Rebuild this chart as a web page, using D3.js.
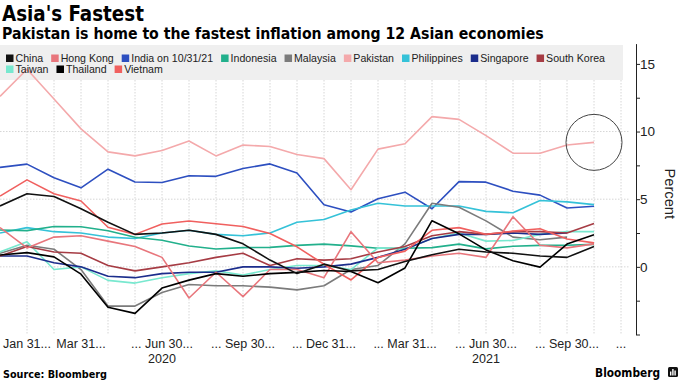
<!DOCTYPE html>
<html lang="en">
<head>
<meta charset="UTF-8">
<title>Asia's Fastest</title>
<script src="https://d3js.org/d3.v7.min.js"></script>
<style>
    body { margin: 0; background: #fff; }
    .title { font-family: "DejaVu Sans Condensed", "DejaVu Sans", sans-serif; font-weight: bold; fill: #000; }
    .legend-text { font-family: "Liberation Sans", Arial, sans-serif; font-size: 10.6px; fill: #222; }
    .axis text { font-family: "Liberation Sans", Arial, sans-serif; fill: #222; }
    .grid line { stroke: #d6d6d6; stroke-dasharray: 1.5 1.5; stroke-width: 1; }
    .line { fill: none; stroke-width: 1.6px; stroke-linejoin: round; }
</style>
</head>
<body>
<svg width="680" height="382"></svg>
<script>
// months, Dec 2019 .. Oct 2021 (year-on-year CPI, %); last slot is an empty Nov 2021 column
const months = ["2019-12","2020-01","2020-02","2020-03","2020-04","2020-05","2020-06","2020-07","2020-08","2020-09","2020-10","2020-11","2020-12",
                "2021-01","2021-02","2021-03","2021-04","2021-05","2021-06","2021-07","2021-08","2021-09","2021-10","2021-11"];

const china       = [4.5, 5.4, 5.2, 4.3, 3.3, 2.4, 2.5, 2.7, 2.4, 1.7, 0.5, -0.5, 0.2, -0.3, -0.2, 0.4, 0.9, 1.3, 1.1, 1.0, 0.8, 0.7, 1.5];
const hongKong    = [2.9, 1.4, 2.2, 2.3, 1.9, 1.5, 0.7, -2.3, -0.4, -2.2, -0.2, -0.2, -0.8, 2.6, 0.3, 0.5, 0.8, 1.0, 0.7, 3.7, 1.6, 1.4, 1.7];
const india       = [7.35, 7.59, 6.58, 5.84, 7.22, 6.27, 6.23, 6.73, 6.69, 7.27, 7.61, 6.93, 4.59, 4.06, 5.03, 5.52, 4.29, 6.30, 6.26, 5.59, 5.30, 4.35, 4.48];
const indonesia   = [2.72, 2.68, 2.98, 2.96, 2.67, 2.19, 1.96, 1.54, 1.32, 1.42, 1.44, 1.59, 1.68, 1.55, 1.38, 1.37, 1.42, 1.68, 1.33, 1.52, 1.59, 1.60, 1.66];
const malaysia    = [1.0, 1.6, 1.3, -0.2, -2.9, -2.9, -1.9, -1.3, -1.4, -1.4, -1.5, -1.7, -1.4, -0.2, 0.1, 1.7, 4.7, 4.4, 3.4, 2.2, 2.0, 2.2, null];
const pakistan    = [12.6, 14.6, 12.4, 10.2, 8.5, 8.2, 8.6, 9.3, 8.2, 9.0, 8.9, 8.3, 8.0, 5.7, 8.7, 9.1, 11.1, 10.9, 9.7, 8.4, 8.4, 9.0, 9.2];
const philippines = [2.5, 2.9, 2.6, 2.5, 2.2, 2.1, 2.5, 2.7, 2.4, 2.3, 2.5, 3.3, 3.5, 4.2, 4.7, 4.5, 4.5, 4.5, 4.1, 4.0, 4.9, 4.8, 4.6];
const singapore   = [0.8, 0.8, 0.3, 0.0, -0.7, -0.8, -0.5, -0.4, -0.4, 0.0, 0.0, -0.1, 0.0, 0.2, 0.7, 1.3, 2.1, 2.4, 2.4, 2.5, 2.4, 2.5, null];
const southKorea  = [0.8, 1.5, 1.1, 1.0, 0.1, -0.3, 0.0, 0.3, 0.7, 1.0, 0.1, 0.6, 0.5, 0.6, 1.1, 1.5, 2.3, 2.6, 2.4, 2.6, 2.6, 2.5, 3.2];
const taiwan      = [1.1, 1.85, -0.2, 0.0, -1.0, -1.2, -0.8, -0.5, -0.3, -0.6, -0.2, 0.1, 0.1, -0.2, 1.4, 1.3, 2.1, 2.5, 1.9, 1.95, 2.4, 2.6, 2.6];
const thailand    = [0.87, 1.05, 0.74, -0.54, -2.99, -3.44, -1.57, -0.98, -0.50, -0.70, -0.50, -0.41, -0.27, -0.34, -1.17, -0.08, 3.41, 2.44, 1.25, 0.45, -0.02, 1.68, 2.38];
const vietnam     = [5.23, 6.43, 5.4, 4.87, 2.93, 2.40, 3.17, 3.39, 3.18, 2.98, 2.47, 1.48, 0.19, -0.97, 0.70, 1.16, 2.70, 2.90, 2.41, 2.64, 2.82, 2.06, 1.77];

const seriesNames  = ["China", "Hong Kong", "India on 10/31/21", "Indonesia", "Malaysia", "Pakistan", "Philippines", "Singapore", "South Korea", "Taiwan", "Thailand", "Vietnam"];
const seriesValues = [china, hongKong, india, indonesia, malaysia, pakistan, philippines, singapore, southKorea, taiwan, thailand, vietnam];
const seriesColors = ["#111111", "#e8767c", "#2d4fc0", "#22b08c", "#7b7b7b", "#f4a9ab", "#35c2d8", "#1b2d8c", "#a63c44", "#78e8cf", "#000000", "#f0605f"];

// Bloomberg-style truncated quarter labels, anchored on months
const xTickMonths = ["2020-01", "2020-03", "2020-06", "2020-09", "2020-12", "2021-03", "2021-06", "2021-09", "2021-11"];
const xTickLabels = ["Jan 31...", "Mar 31...", "... Jun 30...", "... Sep 30...", "... Dec 31...", "... Mar 31...", "... Jun 30...", "... Sep 30...", "..."];
const yearMonths  = ["2020-06", "2021-06"];
const yearLabels  = ["2020", "2021"];
const yTicks      = d3.range(-5, 16, 2.5);

const svg = d3.select("svg");

// shrink / grow a text so that it spans the given width
function fitWidth(sel, target) {
    const w = sel.node().getComputedTextLength();
    const fs = parseFloat(sel.style("font-size"));
    sel.style("font-size", (fs * target / w) + "px");
    return sel;
}

// titles
fitWidth(svg.append("text").attr("class", "title").attr("x", 2).attr("y", 21).style("font-size", "19px")
    .text("Asia's Fastest"), 142);
fitWidth(svg.append("text").attr("class", "title").attr("x", 2).attr("y", 39).style("font-size", "15px")
    .text("Pakistan is home to the fastest inflation among 12 Asian economies"), 542);

// scales
const x = d3.scalePoint().domain(months).range([0, 621]);
const y = d3.scaleLinear().domain([-5, 16.5]).range([334.5, 43.6]);
const plotRight = 630, legendTop = 45, legendBottom = 80;

// grid
const grid = svg.append("g").attr("class", "grid");
grid.selectAll(".vg").data(months.slice(1)).join("line")
    .attr("x1", d => x(d)).attr("x2", d => x(d))
    .attr("y1", legendBottom).attr("y2", y(-5));
grid.selectAll(".hg").data([0, 5, 10]).join("line")
    .attr("x1", 0).attr("x2", plotRight)
    .attr("y1", d => y(d)).attr("y2", d => y(d));

// legend background
svg.append("rect").attr("x", 0).attr("y", legendTop).attr("width", 623)
    .attr("height", legendBottom - legendTop).attr("fill", "#efefef");

// lines
const line = d3.line()
    .defined(d => d.v != null)
    .x(d => x(d.m))
    .y(d => y(d.v));

const drawOrder = [5, 2, 6, 3, 4, 9, 7, 8, 1, 11, 10, 0];
drawOrder.forEach(i => {
    svg.append("path")
        .datum(seriesValues[i].map((v, j) => ({ m: months[j], v: v })))
        .attr("class", "line")
        .attr("stroke", seriesColors[i])
        .attr("d", line);
});

// circle around Pakistan's latest reading
const last = pakistan.length - 1;
svg.append("circle")
    .attr("cx", x(months[last])).attr("cy", y(pakistan[last])).attr("r", 28)
    .attr("fill", "none").attr("stroke", "#444").attr("stroke-width", 1);

// legend (flowing layout)
const legend = svg.append("g");
let lx = 6, ly = 62;
seriesNames.forEach((name, i) => {
    const item = legend.append("g");
    item.append("rect").attr("width", 7.5).attr("height", 7.5).attr("y", -7.5).attr("fill", seriesColors[i]);
    const t = item.append("text").attr("class", "legend-text").attr("x", 9.5).attr("y", 0).text(name);
    const tw = t.node().getComputedTextLength();
    if (lx + 9.5 + tw > 625) { lx = 6; ly += 11; }
    item.attr("transform", `translate(${lx},${ly})`);
    lx += 9.5 + tw + 8;
});

// right y axis
const yAxis = svg.append("g").attr("class", "axis")
    .attr("transform", "translate(636,0)")
    .call(d3.axisRight(y).tickValues(yTicks).tickSize(4).tickSizeOuter(0)
        .tickFormat(d => (d % 5 === 0 && d > -5) ? d : ""));
yAxis.selectAll("text").style("font-size", "13.5px").attr("x", 4);
yAxis.select(".domain").attr("stroke", "#222");
yAxis.selectAll(".tick line").attr("stroke", "#222");

svg.append("text")
    .attr("transform", `translate(665,${y(5.4)}) rotate(90)`)
    .attr("text-anchor", "middle")
    .style("font-family", "Liberation Sans, Arial, sans-serif").style("font-size", "14.7px")
    .style("fill", "#222")
    .text("Percent");

// x labels
const xAxis = svg.append("g").attr("class", "axis").attr("transform", `translate(0,${y(-5)})`);
xAxis.selectAll(".xl").data(xTickLabels).join("text")
    .attr("x", (d, i) => x(xTickMonths[i]))
    .attr("y", 13.5)
    .attr("text-anchor", "middle")
    .style("font-size", "12.5px")
    .text(d => d);
xAxis.selectAll(".yr").data(yearLabels).join("text")
    .attr("x", (d, i) => x(yearMonths[i])).attr("y", 28.5)
    .attr("text-anchor", "middle")
    .style("font-size", "12.5px")
    .text(d => d);

// footer
fitWidth(svg.append("text").attr("class", "title").attr("x", 3).attr("y", 378).style("font-size", "11px")
    .text("Source: Bloomberg"), 104);
fitWidth(svg.append("text").attr("class", "title").attr("x", 660).attr("y", 377).attr("text-anchor", "end")
    .style("font-size", "12px").text("Bloomberg"), 65);
const logo = svg.append("g").attr("transform", "translate(668,367)");
logo.append("rect").attr("width", 10).attr("height", 10).attr("rx", 1.5).attr("fill", "#111");
logo.selectAll("rect.bar").data([4, 6.5, 5]).join("rect").attr("class", "bar")
    .attr("x", (d, i) => 2 + i * 2.2).attr("y", d => 8.5 - d).attr("width", 1.4).attr("height", d => d).attr("fill", "#fff");
</script>
</body>
</html>
